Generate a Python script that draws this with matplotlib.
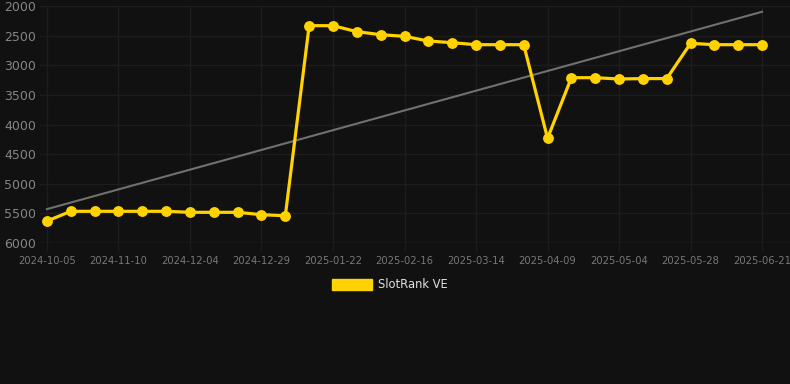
import matplotlib
matplotlib.use("Agg")
import matplotlib.pyplot as plt
from matplotlib.patches import Patch
import numpy as np

# SlotRank VE ranking (lower number = better rank), one point per snapshot
rank = [5630, 5465, 5465, 5465, 5465, 5465, 5482, 5482, 5482, 5522, 5540,
        2332, 2332, 2433, 2484, 2512, 2591, 2619, 2653, 2653, 2653,
        4233, 3210, 3210, 3232, 3225, 3225, 2630, 2653, 2653, 2653]

# dates shown under every third point
date_labels = ["2024-10-05", "2024-11-10", "2024-12-04", "2024-12-29",
               "2025-01-22", "2025-02-16", "2025-03-14", "2025-04-09",
               "2025-05-04", "2025-05-28", "2025-06-21"]

bg = "#111111"
gold = "#FFD200"
grid_c = "#1d1d1d"

x = np.arange(len(rank))
tick_pos = x[::3]

fig = plt.figure(figsize=(7.9, 3.84), dpi=100, facecolor=bg)
ax = fig.add_axes([40 / 790, 1 - 243 / 384, 750 / 790, 237 / 384])
ax.set_facecolor(bg)

# linear trend across all points
k, b = np.polyfit(x, rank, 1)
ax.plot(x, k * x + b, color="#707070", lw=1.5, zorder=2)

ax.plot(x, rank, color=gold, lw=2.3, marker="o", markersize=6.8,
        markerfacecolor=gold, markeredgecolor=gold, zorder=3)

ax.set_xlim(-0.29, 31.17)
ax.set_ylim(6000, 2000)
ax.set_yticks(np.arange(2000, 6001, 500))
ax.set_xticks(tick_pos)
ax.set_xticklabels(date_labels)

ax.grid(True, color=grid_c, lw=1)
for s in ax.spines.values():
    s.set_visible(False)
ax.axhline(6000, color="#262626", lw=1, zorder=1)

ax.tick_params(axis="y", length=0, pad=3, labelsize=9, labelcolor="#858585")
ax.tick_params(axis="x", length=6, width=1, color=grid_c, pad=3,
               labelsize=7.2, labelcolor="#777777")

fig.legend(handles=[Patch(facecolor=gold, edgecolor=gold, label="SlotRank VE")],
           loc="center", bbox_to_anchor=(390 / 790, 1 - 285 / 384),
           frameon=False, fontsize=8.3, labelcolor="#e0e0e0",
           handlelength=3.5, handleheight=1.0, handletextpad=0.5)

fig.savefig("out.png", dpi=100, facecolor=bg)
